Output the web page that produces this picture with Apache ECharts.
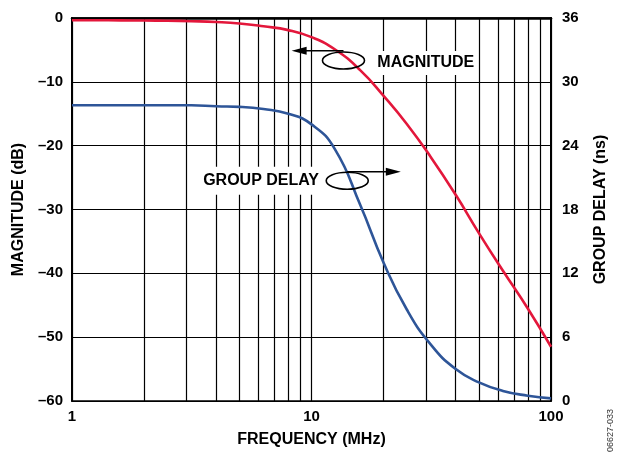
<!DOCTYPE html>
<html>
<head>
<meta charset="utf-8">
<script src="https://cdn.jsdelivr.net/npm/echarts@6/dist/echarts.min.js"></script>
<style>
  html, body { margin: 0; padding: 0; background: #fff; }
  #chart { width: 618px; height: 455px; }
</style>
</head>
<body>
<div id="chart"></div>
<script>
// Frequency response of the low-pass filter: magnitude and group delay,
// sampled at third-octave frequencies
const freqMHz = [1, 1.25, 1.6, 2, 2.5, 3.15, 4, 5, 6.3, 8, 10, 12.5, 16, 20, 25, 31.5, 40, 50, 63, 80, 100];
const magnitudeDb = [-0.35, -0.36, -0.37, -0.4, -0.43, -0.5, -0.62, -0.85, -1.3, -1.9, -3.0, -4.9, -8.2, -12.2, -16.6, -21.8, -27.7, -33.7, -39.6, -45.5, -51.5];
const groupDelayNs = [27.8, 27.8, 27.8, 27.8, 27.8, 27.8, 27.7, 27.65, 27.45, 27.0, 26.0, 23.7, 18.4, 13.0, 8.6, 5.3, 3.0, 1.75, 0.95, 0.5, 0.25];

// Axis ticks and their labels
const freqTicks = [1, 10, 100];
const freqTickLabels = ['1', '10', '100'];
const minorFreqLines = [2, 3, 4, 5, 6, 7, 8, 9, 20, 30, 40, 50, 60, 70, 80, 90];
const magTicks = [0, -10, -20, -30, -40, -50, -60];
const magTickLabels = ['0', '\u201310', '\u201320', '\u201330', '\u201340', '\u201350', '\u201360'];
const delayTicks = [0, 6, 12, 18, 24, 30, 36];
const delayTickLabels = ['0', '6', '12', '18', '24', '30', '36'];

// Callout anchors in data units: [frequency MHz, value]
const magnitudeCallout = { label: 'MAGNITUDE', text: [30, -7.05], ring: [13.6, -6.66], arrowTip: [8.26, -5.12] };
const delayCallout = { label: 'GROUP DELAY', text: [6.1, 20.7], ring: [14.1, 20.7], arrowTip: [23.6, 21.55] };

const FONT = 'Liberation Sans, Arial, Helvetica, sans-serif';
const RED = '#e3173b';
const BLUE = '#2e5598';

const lookup = (ticks, labels) => v => {
  const i = ticks.findIndex(t => Math.abs(t - v) < 1e-9);
  return i >= 0 ? labels[i] : '';
};

const chart = echarts.init(document.getElementById('chart'), null, { renderer: 'canvas' });

const tickLabelStyle = { color: '#000', fontFamily: FONT, fontWeight: 'bold', fontSize: 15 };
const nameStyle = { color: '#000', fontFamily: FONT, fontWeight: 'bold', fontSize: 16 };

chart.setOption({
  animation: false,
  backgroundColor: '#fff',
  grid: { left: 72, right: 67, top: 18, bottom: 54, show: true, borderColor: '#000', borderWidth: 1.5 },
  xAxis: {
    type: 'log', logBase: 10, min: 1, max: 100,
    name: 'FREQUENCY (MHz)', nameLocation: 'middle', nameGap: 31, nameTextStyle: nameStyle,
    axisLine: { show: true, lineStyle: { color: '#000', width: 2.5 } },
    axisTick: { show: false },
    axisLabel: Object.assign({ margin: 8, formatter: lookup(freqTicks, freqTickLabels) }, tickLabelStyle),
    splitLine: { show: true, lineStyle: { color: '#000', width: 1.2 } }
  },
  yAxis: [
    {
      type: 'value', min: -60, max: 0, interval: 10, position: 'left',
      name: 'MAGNITUDE (dB)', nameLocation: 'middle', nameGap: 43, nameTextStyle: nameStyle,
      axisLine: { show: true, lineStyle: { color: '#000', width: 2 } },
      axisTick: { show: false },
      axisLabel: Object.assign({ margin: 9, formatter: lookup(magTicks, magTickLabels) }, tickLabelStyle),
      splitLine: { show: true, lineStyle: { color: '#000', width: 1.2 } }
    },
    {
      type: 'value', min: 0, max: 36, interval: 6, position: 'right',
      name: 'GROUP DELAY (ns)', nameLocation: 'middle', nameGap: 42, nameTextStyle: nameStyle,
      axisLine: { show: true, lineStyle: { color: '#000', width: 2 } },
      axisTick: { show: false },
      axisLabel: Object.assign({ margin: 11, formatter: lookup(delayTicks, delayTickLabels) }, tickLabelStyle),
      splitLine: { show: false }
    }
  ],
  series: [
    {
      // intermediate decade grid lines (2..9, 20..90)
      type: 'line', data: [], z: 1, silent: true,
      markLine: {
        silent: true, symbol: ['none', 'none'], label: { show: false },
        lineStyle: { color: '#000', width: 1.2, type: 'solid' },
        emphasis: { disabled: true },
        data: minorFreqLines.map(f => ({ xAxis: f }))
      }
    },
    {
      name: 'Magnitude', type: 'line', yAxisIndex: 0, z: 5,
      data: freqMHz.map((f, i) => [f, magnitudeDb[i]]),
      showSymbol: false, smooth: 0.5,
      lineStyle: { color: RED, width: 2.6 }
    },
    {
      name: 'Group delay', type: 'line', yAxisIndex: 1, z: 5,
      data: freqMHz.map((f, i) => [f, groupDelayNs[i]]),
      showSymbol: false, smooth: 0.5,
      lineStyle: { color: BLUE, width: 2.6 }
    }
  ]
});

// Callouts: label, ring around the curve, arrow pointing to the axis it reads on
function callout(c, axisIndex, dir, pad) {
  const px = v => chart.convertToPixel({ xAxisIndex: 0, yAxisIndex: axisIndex }, v);
  const t = px(c.text), r = px(c.ring), a = px(c.arrowTip);
  const rx = 21, ry = 8.5, headLen = 15, headHalf = 4;
  const lineY = a[1];
  return [
    {
      type: 'text', z: 100,
      style: {
        text: c.label, x: t[0], y: t[1], align: 'center', verticalAlign: 'middle',
        font: 'bold 16px ' + FONT, fill: '#000', backgroundColor: '#fff', padding: pad
      }
    },
    {
      type: 'ellipse', z: 101,
      shape: { cx: r[0], cy: r[1], rx: rx, ry: ry },
      style: { fill: 'none', stroke: '#000', lineWidth: 1.6 }
    },
    {
      type: 'line', z: 101,
      shape: { x1: r[0], y1: lineY, x2: a[0] - dir * headLen * 0.5, y2: lineY },
      style: { stroke: '#000', lineWidth: 1.6 }
    },
    {
      type: 'polygon', z: 101,
      shape: { points: [[a[0], lineY], [a[0] - dir * headLen, lineY - headHalf], [a[0] - dir * headLen, lineY + headHalf]] },
      style: { fill: '#000', stroke: 'none' }
    }
  ];
}

chart.setOption({
  graphic: [].concat(
    callout(magnitudeCallout, 0, -1, [4, 3]),
    callout(delayCallout, 1, 1, [6, 4, 6, 6]),
    [{
      type: 'text', z: 100, rotation: Math.PI / 2, x: 606, y: 452,
      style: { text: '06627-033', font: '9px ' + FONT, fill: '#333', align: 'left', verticalAlign: 'top' }
    }]
  )
});
</script>
</body>
</html>
